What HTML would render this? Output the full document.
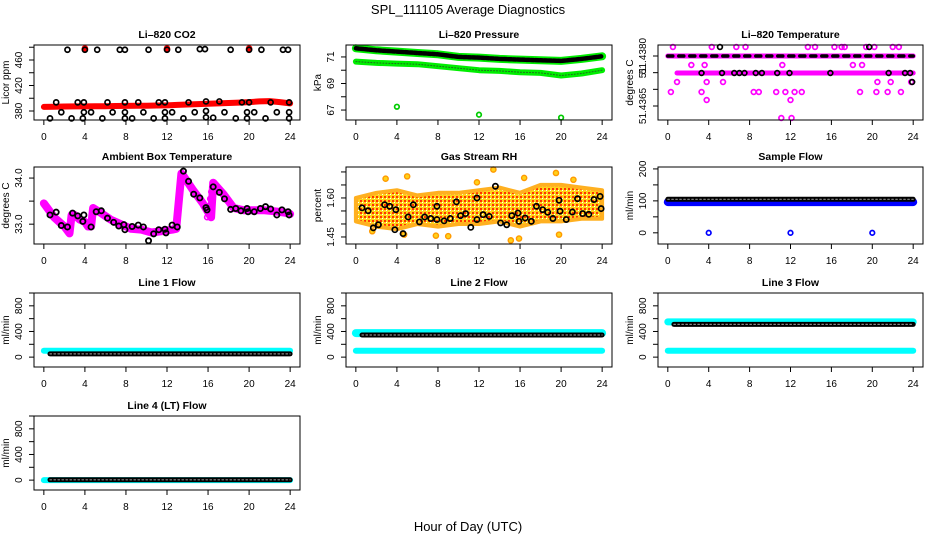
<!DOCTYPE html>
<html><head><meta charset="utf-8">
<style>
html,body{margin:0;padding:0;background:#fff;}
svg{display:block;font-family:"Liberation Sans",Arial,sans-serif;}
</style></head>
<body>
<svg id="chart" width="936" height="540" viewBox="0 0 936 540" xmlns="http://www.w3.org/2000/svg">
<defs>
<pattern id="rhpat" width="4" height="4" patternUnits="userSpaceOnUse">
<rect width="4" height="4" fill="#ffd21a"/>
<rect x="0" y="0" width="2" height="2" fill="#ff3300"/>
<rect x="2" y="2" width="1" height="1" fill="#ffffff"/>
</pattern>
</defs>
<rect width="936" height="540" fill="#fff"/>
<text x="468" y="14" font-size="13" text-anchor="middle">SPL_111105  Average Diagnostics</text>
<text x="468" y="531" font-size="13" text-anchor="middle">Hour of Day (UTC)</text>
</svg>
<script>
// ---------- data ----------
const xTicks = [0,4,8,12,16,20,24];
// CO2
const co2Hours = [0,1,2,3,4,5,6,7,8,9,10,11,12,13,14,15,16,17,18,19,20,21,22,23,24];
const co2Red = [386.5,386.8,387,387.2,387.3,387.5,387.6,387.8,388,388.2,388.4,388.6,388.8,389.5,390.2,390.8,391.5,392,392.6,393.2,394,395,395.5,394,392];
const co2RedTopX = [4,12,20];
const co2RedTopY = [478,478,478];
const co2BlkX = [2.3,4,5.2,7.4,7.9,10.2,12,13.1,15.2,15.7,18.2,20,21.2,23.3,23.8,
 1.2,3.3,3.9,6.2,7.9,9.2,11.2,11.8,14.1,15.8,17.1,19.3,20,22.1,23.9,
 1.7,3.9,4.6,6.7,7.9,9.7,11.8,12.5,14.7,15.8,17.6,19.8,20.5,22.7,23.9,
 0.6,2.7,3.8,5.7,7.9,8.6,10.7,11.8,13.6,15.8,16.5,18.7,19.8,21.6,23.9];
const co2BlkY = [476,476,476,476,476,476,476,476,477,477,476,476,476,476,476,
 393.5,393.5,393.5,393.5,393.5,393.5,393.5,393.5,393.5,395,395,393.5,393.5,393.5,393.5,
 378,378,378,378,378,378,378,378,378,380,378,378,378,378,378,
 368.5,368.5,368.5,368.5,368.5,368.5,368.5,368.5,368.5,370,369.5,368.5,368.5,368.5,368.5];
// Pressure
const pHours = [0,2,4,6,8,10,12,14,16,18,20,22,24];
const pUpper = [71.65,71.5,71.4,71.3,71.2,71.0,70.95,70.85,70.8,70.75,70.7,70.85,71.05];
const pLower = [70.65,70.55,70.5,70.45,70.3,70.15,70.0,69.95,69.85,69.8,69.6,69.75,70.0];
const pOutX = [4,12,20];
const pOutY = [67.25,66.65,66.43];
// Temperature
const tMainX = [0,24];
const tMainY = [51.4380,51.4380];
const tMidX = [0.9,24];
const tMidY = [51.43749,51.43749];
const tScatX = [0.3,0.5,0.9,2.3,3.3,3.6,3.8,3.8,4.3,5.4,6.7,7.6,8.4,8.9,10.6,11.1,11.2,11.5,12.0,12.1,12.4,13.1,13.7,14.4,16.3,17.0,17.3,18.1,18.8,19.0,19.4,20.2,20.5,20.4,21.5,21.8,22.0,22.6,22.8,23.8];
const tScatY = [51.43692,51.43827,51.43722,51.43773,51.43692,51.43773,51.43722,51.43668,51.43827,51.43722,51.43827,51.43827,51.43692,51.43692,51.43692,51.43614,51.43773,51.43692,51.43668,51.43614,51.43692,51.43692,51.43827,51.43827,51.43827,51.43827,51.43827,51.43773,51.43692,51.43773,51.43827,51.43827,51.43722,51.43692,51.43692,51.43722,51.43827,51.43827,51.43692,51.43722];
const tBlkX = [3.3,5.3,6.5,7.0,7.5,8.6,9.2,10.7,11.9,15.9,21.6,23.2,23.7,19.7,5.1,23.9];
const tBlkY = [51.43749,51.43749,51.43749,51.43749,51.43749,51.43749,51.43749,51.43749,51.43749,51.43749,51.43749,51.43749,51.43749,51.43827,51.43827,51.43722];
// Ambient
const ambMagX = [0,0.5,1,1.5,2,2.5,2.7,3,3.5,4,4.3,4.6,4.8,5.5,6.5,7.5,8.5,9.5,10.5,11.5,12.5,12.9,13.4,13.6,14.5,15.5,15.9,16.3,16.5,17.5,18.5,19.5,20.5,21.5,22.5,23.5,24];
const ambMag = [33.45,33.3,33.15,33.05,32.95,32.8,33.2,33.2,33.1,33.05,32.95,32.95,33.35,33.25,33.1,33.0,32.9,32.88,32.82,32.85,32.88,32.9,34.1,34.05,33.75,33.45,33.3,33.15,33.9,33.65,33.35,33.3,33.3,33.3,33.28,33.25,33.22];
const ambJumpX = [12.9,13.0,13.1,13.2,13.3,15.9,16.0,16.1,16.2,16.3];
const ambJumpY = [32.95,33.15,33.4,33.55,33.85,33.15,33.25,33.4,33.55,33.7];
const ambBlkX = [0.6,1.2,1.7,2.3,2.8,3.3,3.8,3.9,4.6,5.1,5.6,6.2,6.8,7.3,7.8,7.9,8.6,9.2,9.7,10.2,10.7,11.2,11.8,11.9,12.5,13.0,13.6,14.1,14.6,15.2,15.8,15.9,16.5,17.1,17.6,18.2,18.7,19.2,19.8,19.9,20.5,21.1,21.6,22.1,22.7,23.2,23.8,23.9];
const ambBlkY = [33.2,33.26,32.97,32.94,33.24,33.18,33.06,33.2,32.94,33.27,33.29,33.13,33.04,32.96,32.99,32.88,32.95,32.98,32.94,32.64,32.79,32.88,32.89,32.81,32.98,32.94,34.15,33.93,33.65,33.57,33.36,33.31,33.81,33.69,33.55,33.32,33.34,33.29,33.34,33.27,33.27,33.34,33.38,33.33,33.2,33.31,33.27,33.2];
// RH
const rhX = [0,2,4,6,8,10,12,14,16,18,20,22,24];
const rhUp = [1.60,1.62,1.63,1.61,1.62,1.62,1.63,1.64,1.62,1.65,1.65,1.64,1.63];
const rhLo = [1.51,1.49,1.48,1.50,1.49,1.50,1.50,1.51,1.49,1.51,1.51,1.52,1.52];
const rhOutX = [2.9,5.0,13.4,15.1,15.9,16.4,19.5,19.8,9.0,4.7,1.6,21.2,7.8,11.8];
const rhOutY = [1.674,1.683,1.709,1.437,1.444,1.677,1.696,1.459,1.453,1.459,1.472,1.670,1.455,1.66];
const rhBlkX = [0.6,1.2,1.7,2.2,2.8,3.3,3.8,3.9,4.6,5.1,5.6,6.2,6.7,7.3,7.9,7.9,8.6,9.2,9.8,10.2,10.7,11.2,11.8,11.8,12.4,13.0,13.6,14.1,14.7,15.2,15.8,15.9,16.5,17.1,17.6,18.2,18.7,19.2,19.8,19.9,20.5,21.1,21.6,22.1,22.7,23.2,23.8,23.9];
const rhBlkY = [1.562,1.551,1.485,1.497,1.574,1.568,1.478,1.555,1.463,1.527,1.574,1.508,1.527,1.521,1.517,1.568,1.512,1.521,1.585,1.532,1.540,1.487,1.517,1.600,1.536,1.529,1.645,1.504,1.497,1.532,1.542,1.510,1.523,1.510,1.568,1.555,1.545,1.521,1.591,1.549,1.517,1.546,1.597,1.540,1.537,1.594,1.606,1.559];
// Sample flow
const sfX = [0,24];
const sfBlue = [96,96];
const sfBlack = [105,105];
const sfOutX = [4,12,20];
const sfOutY = [0,0,0];
// Line flows
const lfX = [0,24];
const l1Cyan = [100,100];
const l1Black = [50,50];
const l2CyanHi = [375,375];
const l2CyanLo = [100,100];
const l2Black = [345,345];
const l3CyanHi = [550,550];
const l3CyanLo = [100,100];
const l3Black = [510,510];
const l4Cyan = [0,0];
const l4Black = [5,5];

// ---------- helpers ----------
const NS = 'http://www.w3.org/2000/svg';
const svg = document.getElementById('chart');
function mk(tag, attrs, parent){
  const e = document.createElementNS(NS, tag);
  for (const k in attrs) e.setAttribute(k, attrs[k]);
  (parent||svg).appendChild(e);
  return e;
}
function makePanel(name, L, R, T, B, ylim, yTicks, yLabels, title, ylab){
  const g = mk('g', {});
  
  
  const sx = v => L + (v + 0.96) / 25.92 * (R - L);
  const sy = v => B - (v - ylim[0]) / (ylim[1] - ylim[0]) * (B - T);
  const plot = mk('g', {}, g);
  
  
  const box = mk('rect', {x:L, y:T, width:R-L, height:B-T, fill:'none', stroke:'#000', 'stroke-width':1}, g);
  
  
  const t = mk('text', {x:(L+R)/2, y:T-7, 'font-size':10.5, 'font-weight':'bold', 'text-anchor':'middle'}, g);
  t.textContent = title;
  
  
  const xa = mk('g', {}, g);
  
  
  mk('line', {x1:sx(0), x2:sx(24), y1:B, y2:B, stroke:'#000'}, xa);
  xTicks.forEach(v => {
    mk('line', {x1:sx(v), x2:sx(v), y1:B, y2:B+5, stroke:'#000'}, xa);
    const tl = mk('text', {x:sx(v), y:B+20, 'font-size':10, 'text-anchor':'middle'}, xa);
    tl.textContent = v;
    
    
  });
  const ya = mk('g', {}, g);
  
  
  mk('line', {x1:L, x2:L, y1:sy(yTicks[0]), y2:sy(yTicks[yTicks.length-1]), stroke:'#000'}, ya);
  yTicks.forEach((v,i) => {
    const y = sy(v);
    mk('line', {x1:L-5, x2:L, y1:y, y2:y, stroke:'#000'}, ya);
    if (yLabels[i]) {
      const tl = mk('text', {x:0, y:0, 'font-size':10, 'text-anchor':'middle', transform:'translate(' + (L-12) + ',' + y + ') rotate(-90)'}, ya);
      tl.textContent = yLabels[i];
      
      
    }
  });
  const yt = mk('text', {x:0, y:0, 'font-size':10, 'text-anchor':'middle', transform:'translate(' + (L-25) + ',' + (T+B)/2 + ') rotate(-90)'}, g);
  yt.textContent = ylab;
  
  
  return {g:plot, sx, sy};
}
function band(p, xs, ys, color, w, name, dash){
  const d = xs.map((x,i) => (i?'L':'M') + p.sx(x).toFixed(1) + ' ' + p.sy(ys[i]).toFixed(1)).join(' ');
  const a = {d, fill:'none', stroke:color, 'stroke-width':w, 'stroke-linecap':'round', 'stroke-linejoin':'round'};
  if (dash) a['stroke-dasharray'] = dash;
  const e = mk('path', a, p.g);
  
  
  return e;
}
function pts(p, xs, ys, color, name, r, fill, sw){
  xs.forEach((x,i) => {
    const c = mk('circle', {cx:p.sx(x), cy:p.sy(ys[i]), r:r||2.3, fill:fill||'none', stroke:color, 'stroke-width':sw||1.4}, p.g);
    
    
  });
}
function chain(p, xs, ys, name){
  band(p, xs, ys, '#000', 5, name);
  band(p, xs, ys, '#888', 1.2, name + '-texture', '1.5 2.5');
}

const C = [[34,300],[346,612],[658,923]];
const R = [[45,120],[167,244],[293,367],[416,490]];
const flowLim = [-154,1000];
const flowTicks = [0,200,400,600,800,1000];
const flowLabels = ['0','','400','','800',''];

// Panel 1 CO2
let p = makePanel('co2-panel', C[0][0], C[0][1], R[0][0], R[0][1], [365.9,483.5], [380,400,420,440,460,480], ['380','','420','','460',''], 'Li\u2013820 CO2', 'Licor ppm');
band(p, co2Hours, co2Red, '#ff0000', 6, 'co2-red-series');
pts(p, co2RedTopX, co2RedTopY, '#ff0000', 'co2-red-point', 2.6, '#ff0000');
pts(p, co2BlkX, co2BlkY, '#000', 'co2-black-point', 2.5, 'none', 1.7);

// Panel 2 Pressure
p = makePanel('pressure-panel', C[1][0], C[1][1], R[0][0], R[0][1], [66.25,71.9], [67,68,69,70,71], ['67','','69','','71'], 'Li\u2013820 Pressure', 'kPa');
band(p, pHours, pUpper, '#00ee00', 8, 'pressure-upper-green');
band(p, pHours, pUpper, '#000', 4.5, 'pressure-upper-black', '3 1.5');
band(p, pHours, pLower, '#00ee00', 6, 'pressure-lower-green');
band(p, pHours, pLower, '#226622', 1, 'pressure-lower-texture', '1 2');
pts(p, pOutX, pOutY, '#00cc00', 'pressure-outlier', 2.3, 'none', 1.7);

// Panel 3 Temperature
p = makePanel('temperature-panel', C[2][0], C[2][1], R[0][0], R[0][1], [51.43608,51.43833], [51.4365,51.4370,51.4375,51.4380], ['51.4365','','51','51.4380'], 'Li\u2013820 Temperature', 'degrees C');
band(p, tMainX, tMainY, '#ff00ff', 5, 'temp-main-band');
band(p, tMainX, tMainY, '#000', 3.5, 'temp-main-black', '5 6');
band(p, tMidX, tMidY, '#ff00ff', 5, 'temp-mid-band');
pts(p, tScatX, tScatY, '#ff00ff', 'temp-magenta-point', 2.4, 'none', 1.7);
pts(p, tBlkX, tBlkY, '#000', 'temp-black-point', 2.4, 'none', 1.7);

// Panel 4 Ambient
p = makePanel('ambient-panel', C[0][0], C[0][1], R[1][0], R[1][1], [32.57,34.24], [33.0,33.5,34.0], ['33.0','','34.0'], 'Ambient Box Temperature', 'degrees C');
band(p, ambMagX, ambMag, '#ff00ff', 8, 'ambient-magenta-band');
pts(p, ambJumpX, ambJumpY, '#ff00ff', 'ambient-magenta-point', 2.4, 'none', 1.6);
pts(p, ambBlkX, ambBlkY, '#000', 'ambient-black-point', 2.6, 'none', 1.8);

// Panel 5 RH
p = makePanel('rh-panel', C[1][0], C[1][1], R[1][0], R[1][1], [1.423,1.719], [1.45,1.50,1.55,1.60,1.65,1.70], ['1.45','','','1.60','',''], 'Gas Stream RH', 'percent');
(function(){
  const d = rhX.map((x,i)=>(i?'L':'M')+p.sx(x).toFixed(1)+' '+p.sy(rhUp[i]).toFixed(1)).join(' ') + ' ' +
    rhX.slice().reverse().map((x,i)=>'L'+p.sx(x).toFixed(1)+' '+p.sy(rhLo[rhLo.length-1-i]).toFixed(1)).join(' ') + ' Z';
  const e = mk('path', {d, fill:'url(#rhpat)', stroke:'#ffb020', 'stroke-width':4, 'stroke-linejoin':'round'}, p.g);
  
  
})();
pts(p, rhOutX, rhOutY, '#ff9900', 'rh-orange-point', 2.6, '#ffd21a');
pts(p, rhBlkX, rhBlkY, '#000', 'rh-black-point', 2.6, 'none', 1.7);

// Panel 6 Sample flow
p = makePanel('sample-flow-panel', C[2][0], C[2][1], R[1][0], R[1][1], [-35,206], [0,50,100,150,200], ['0','','100','','200'], 'Sample Flow', 'ml/min');
band(p, sfX, sfBlue, '#0000ff', 8, 'sample-flow-blue');
chain(p, sfX, sfBlack, 'sample-flow-black');
pts(p, sfOutX, sfOutY, '#0000ff', 'sample-flow-outlier', 2.3, 'none', 1.7);

// Panel 7 Line 1
p = makePanel('line1-flow-panel', C[0][0], C[0][1], R[2][0], R[2][1], flowLim, flowTicks, flowLabels, 'Line 1 Flow', 'ml/min');
band(p, lfX, l1Cyan, '#00ffff', 6, 'line1-cyan');
chain(p, [0.6,24], l1Black, 'line1-black');

// Panel 8 Line 2
p = makePanel('line2-flow-panel', C[1][0], C[1][1], R[2][0], R[2][1], flowLim, flowTicks, flowLabels, 'Line 2 Flow', 'ml/min');
band(p, lfX, l2CyanHi, '#00ffff', 8, 'line2-cyan-high');
band(p, lfX, l2CyanLo, '#00ffff', 6, 'line2-cyan-low');
chain(p, [0.6,24], l2Black, 'line2-black');

// Panel 9 Line 3
p = makePanel('line3-flow-panel', C[2][0], C[2][1], R[2][0], R[2][1], flowLim, flowTicks, flowLabels, 'Line 3 Flow', 'ml/min');
band(p, lfX, l3CyanHi, '#00ffff', 7, 'line3-cyan-high');
band(p, lfX, l3CyanLo, '#00ffff', 6, 'line3-cyan-low');
chain(p, [0.6,24], l3Black, 'line3-black');

// Panel 10 Line 4
p = makePanel('line4-flow-panel', C[0][0], C[0][1], R[3][0], R[3][1], flowLim, flowTicks, flowLabels, 'Line 4 (LT) Flow', 'ml/min');
band(p, lfX, l4Cyan, '#00ffff', 6, 'line4-cyan');
chain(p, [0.6,24], l4Black, 'line4-black');
</script>
</body></html>
